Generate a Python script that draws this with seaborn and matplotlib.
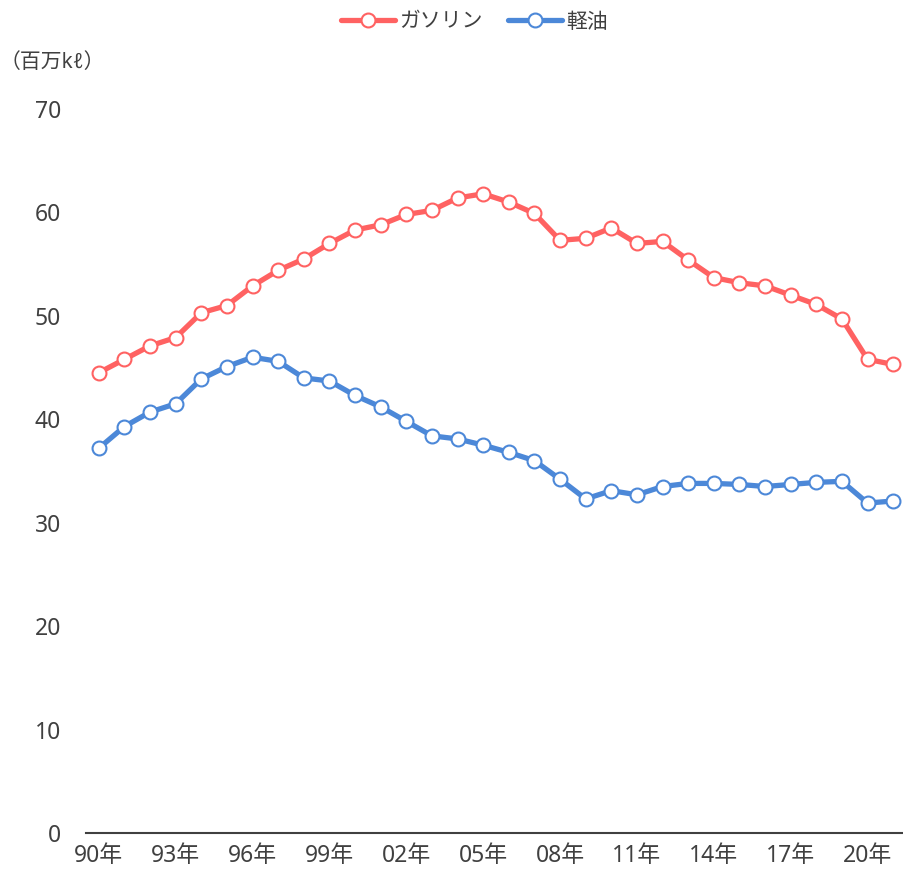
import numpy as np
import pandas as pd
import matplotlib
matplotlib.use("Agg")
import matplotlib.pyplot as plt
import seaborn as sns

years = list(range(1990, 2022))
gasoline = [44.5, 45.8, 47.1, 47.9, 50.3, 51.0, 52.9, 54.4, 55.5, 57.0,
            58.3, 58.8, 59.8, 60.2, 61.4, 61.8, 61.0, 59.9, 57.3, 57.5,
            58.5, 57.0, 57.2, 55.4, 53.7, 53.2, 52.9, 52.0, 51.1, 49.7,
            45.8, 45.3]
diesel = [37.2, 39.3, 40.7, 41.5, 43.9, 45.1, 46.0, 45.6, 44.0, 43.7,
          42.3, 41.2, 39.8, 38.4, 38.1, 37.5, 36.8, 36.0, 34.2, 32.3,
          33.1, 32.7, 33.5, 33.8, 33.8, 33.7, 33.5, 33.7, 33.9, 34.0,
          31.9, 32.1]
series_names = ["ガソリン", "軽油"]
tick_years = years[::3]
tick_labels = [f"{y % 100:02d}年" for y in tick_years]

sns.set_style("white")
plt.rcParams["font.family"] = ["Noto Sans", "Noto Sans CJK JP", "DejaVu Sans"]

df = pd.DataFrame({"year": years, series_names[0]: gasoline, series_names[1]: diesel})
long_df = df.melt(id_vars="year", var_name="fuel", value_name="volume")
long_df["pos"] = long_df["year"] - years[0]

fig = plt.figure(figsize=(9.04, 8.71), dpi=100)
ax = fig.add_axes([86 / 904, 38 / 871, 820 / 904, 724 / 871])

palette = {series_names[0]: "#FF6262", series_names[1]: "#4C88D8"}
sns.lineplot(data=long_df, x="pos", y="volume", hue="fuel", palette=palette,
             lw=3.8, marker="o", markersize=10, markerfacecolor="white",
             markeredgewidth=1.5, ax=ax, legend=False)
# marker edge colors match their line
for line in ax.get_lines():
    line.set_markeredgecolor(line.get_color())

ax.set_xlim(-0.5, len(years) - 0.5)
ax.set_ylim(0, 70)
ax.set_yticks(range(0, 71, 10))
ax.set_xticks([y - years[0] for y in tick_years])
ax.set_xticklabels(tick_labels)
ax.set_xlabel("")
ax.set_ylabel("")
ax.tick_params(axis="both", length=0, labelsize=16.5, colors="#404040")
ax.tick_params(axis="y", pad=18)
ax.tick_params(axis="x", pad=8)
for side in ["left", "top", "right"]:
    ax.spines[side].set_visible(False)
ax.spines["bottom"].set_color("#404040")
ax.spines["bottom"].set_linewidth(1.5)
ax.grid(False)

fig.text(0, 1 - 62 / 871, "（百万kℓ）", fontsize=15, color="#404040", va="center")

handles = [plt.Line2D([], [], color=palette[n], lw=3.8, marker="o", markersize=10,
                      markerfacecolor="white", markeredgecolor=palette[n],
                      markeredgewidth=1.5) for n in series_names]
fig.legend(handles, series_names, loc="center", bbox_to_anchor=(0.525, 1 - 22 / 871),
           ncol=2, frameon=False, fontsize=15, handlelength=2.6, columnspacing=1.2,
           handletextpad=0.2, labelcolor="#404040")

fig.savefig("out.png", dpi=100, facecolor="white")
